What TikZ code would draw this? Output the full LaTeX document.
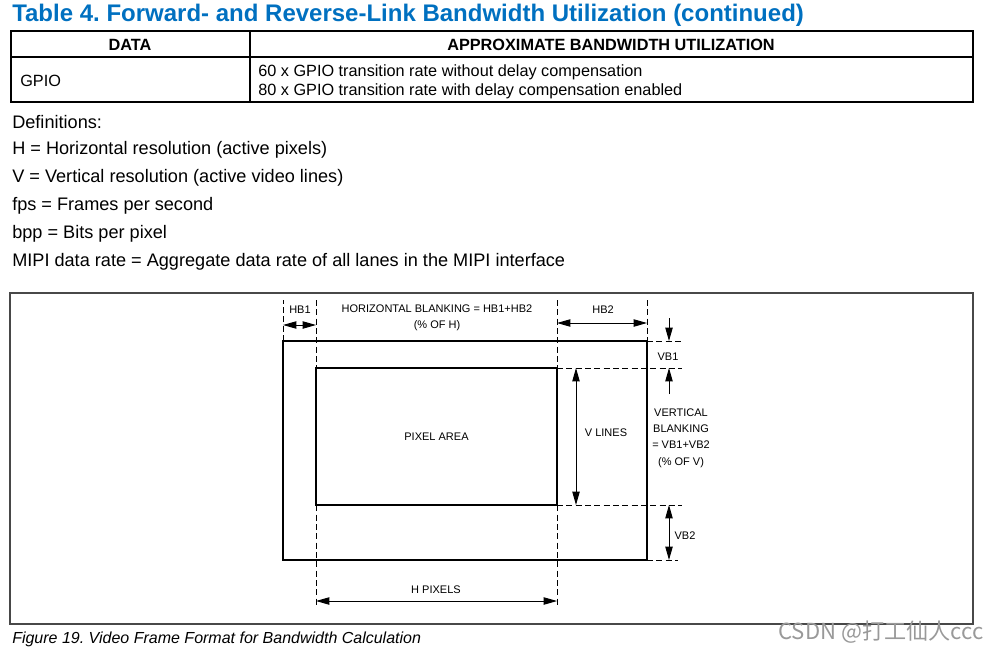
\documentclass[tikz,border=0pt]{standalone}
\usepackage{fontspec}
\setmainfont{Liberation Sans}
\newfontfamily\cjkfont{Noto Sans CJK SC}
\usetikzlibrary{arrows.meta, positioning, calc}
\definecolor{titleblue}{RGB}{0,112,192}
\definecolor{boxgray}{RGB}{72,72,72}
\frenchspacing

\begin{document}
\begin{tikzpicture}[x=0.75pt, y=-0.75pt,
    bodytext/.style={anchor=west, inner sep=0, font=\fontsize{13.6}{16}\selectfont},
    celltext/.style={inner sep=0, font=\fontsize{12.2}{14.25}\selectfont},
    figlabel/.style={inner sep=0, align=center, font=\fontsize{8.25}{12.3}\selectfont},
    frameline/.style={line width=1.7pt},
    guide/.style={line width=0.7pt, dash pattern=on 4.5pt off 2.5pt},
    dim/.style={line width=0.7pt, {Triangle[length=10pt,width=5.5pt]}-{Triangle[length=10pt,width=5.5pt]}},
    tipdim/.style={line width=0.7pt, -{Triangle[length=10pt,width=5.5pt]}}]
    \useasboundingbox (0,0) rectangle (1002,651);

    % title and table
    \node (title) [anchor=west, inner sep=0, text=titleblue, font=\fontsize{18}{20}\bfseries] at (12,15.5) {Table 4. Forward- and Reverse-Link Bandwidth Utilization (continued)};
    \draw [line width=0.9pt] (11,31) rectangle (973,102);
    \draw [line width=0.9pt] (11,57) -- (973,57);
    \draw [line width=0.9pt] (250,31) -- (250,102);
    \node (datahead) [celltext, font=\fontsize{12.2}{14.25}\bfseries] at (130,45) {DATA};
    \node (bwhead) [celltext, font=\fontsize{12.2}{14.25}\bfseries] at (611,45) {APPROXIMATE BANDWIDTH UTILIZATION};
    \node (gpio) [celltext, anchor=west] at (20,81) {GPIO};
    \node (gpiobw) [celltext, anchor=west, align=left] at (258,81.5) {60 x GPIO transition rate without delay compensation\\80 x GPIO transition rate with delay compensation enabled};

    % definitions
    \node (defs) [bodytext] at (12,122) {Definitions:};
    \node (defh) [bodytext] at (12,150) {H = Horizontal resolution (active pixels)};
    \node (defv) [bodytext] at (12,178) {V = Vertical resolution (active video lines)};
    \node (deffps) [bodytext] at (12,206) {fps = Frames per second};
    \node (defbpp) [bodytext] at (12,234) {bpp = Bits per pixel};
    \node (defmipi) [bodytext] at (12,262) {MIPI data rate = Aggregate data rate of all lanes in the MIPI interface};

    % figure 19
    \draw [line width=1.1pt, boxgray] (10,293) rectangle (973,624);
    \coordinate (fnw) at (283,341);
    \coordinate (fse) at (647,560);
    \draw [frameline] (fnw) rectangle (fse);
    \node (pixel) [draw, frameline, outer sep=0, inner sep=0, minimum width=180.75pt, minimum height=102.75pt, font=\fontsize{8.25}{10}\selectfont] at (436.5,436.5) {PIXEL AREA};

    \draw [guide] (fnw) -- (fnw |- 0,300);
    \draw [guide] (fse |- 0,300) -- (fse |- fnw);
    \draw [guide] (pixel.north west |- 0,300) -- (pixel.south west |- 0,608);
    \draw [guide] (pixel.north east |- 0,300) -- (pixel.south east |- 0,608);
    \draw [guide] (fse |- fnw) -- (682,341);
    \draw [guide] (pixel.north east) -- (pixel.north east -| 682,0);
    \draw [guide] (pixel.south east) -- (pixel.south east -| 682,0);
    \draw [guide] (fse) -- (678,560);

    \draw [dim] (fnw |- 0,325) -- (pixel.north west |- 0,325);
    \draw [dim] (pixel.north east |- 0,323) -- (fse |- 0,323);
    \draw [dim] (pixel.south west |- 0,601) -- (pixel.south east |- 0,601);
    \draw [dim] (pixel.north east -| 576,0) -- (pixel.south east -| 576,0);
    \draw [tipdim] (669,318) -- (fnw -| 669,0);
    \draw [tipdim] (669,394) -- (pixel.north east -| 669,0);
    \draw [dim] (pixel.south east -| 669,0) -- (fse -| 669,0);

    \node (hb1) [figlabel] at (300,310) {HB1};
    \node (hblank) [figlabel] at (437,318) {HORIZONTAL BLANKING = HB1+HB2\\(\% OF H)};
    \node (hb2) [figlabel] at (603,310) {HB2};
    \node (vb1) [figlabel] at (668,357) {VB1};
    \node (vblank) [figlabel] at (681,438) {VERTICAL\\BLANKING\\= VB1+VB2\\(\% OF V)};
    \node (vlines) [figlabel] at (606,433) {V LINES};
    \node (vb2) [figlabel] at (685,536) {VB2};
    \node (hpix) [figlabel] at (436,590) {H PIXELS};

    \node (caption) [anchor=west, inner sep=0, font=\fontsize{12}{14}\itshape] at (12,639) {Figure 19. Video Frame Format for Bandwidth Calculation};
    \node (mark) [anchor=west, inner sep=0, text=black!40, font=\cjkfont\fontsize{16.6}{18}\selectfont] at (778,632) {CSDN @打工仙人ccc};
\end{tikzpicture}
\end{document}
